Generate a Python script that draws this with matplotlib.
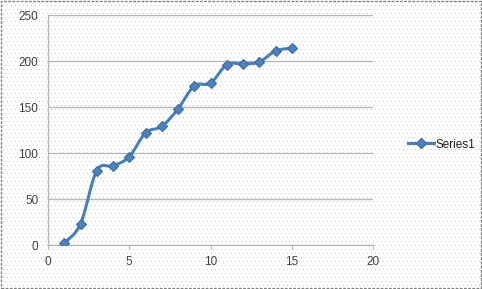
import matplotlib
matplotlib.use("Agg")
import matplotlib.pyplot as plt
import numpy as np
from matplotlib.path import Path
from matplotlib.patches import PathPatch, Rectangle
from matplotlib.lines import Line2D

# data
x_vals = [1, 2, 3, 4, 5, 6, 7, 8, 9, 10, 11, 12, 13, 14, 15]
y_vals = [2, 23, 81, 86, 96, 122, 129, 148, 173, 176, 196, 197, 199, 211, 214]
x_ticks = [0, 5, 10, 15, 20]
y_ticks = [0, 50, 100, 150, 200, 250]
series_name = "Series1"

line_color = "#4A7EBB"
marker_color = "#4F81BD"
grid_color = "#B8B8B8"

plt.rcParams["font.family"] = ["Liberation Sans", "DejaVu Sans"]

W, H = 482, 289
fig = plt.figure(figsize=(W / 100, H / 100), dpi=100)
fig.patch.set_facecolor("white")

# Excel-style dotted chart area fill
pattern = np.ones((H, W, 3))
rr, cc = np.mgrid[0:H, 0:W]
dots = (rr % 4 == 1) & ((cc + 2 * ((rr // 4) % 2)) % 4 == 1)
pattern[dots] = 0.78
fig.figimage(pattern, 0, 0, zorder=-10)

border = Rectangle((0.002, 0.003), 0.996, 0.994, transform=fig.transFigure,
                   facecolor="none", edgecolor="#808080", linestyle=(0, (2, 1)),
                   linewidth=1.0, zorder=10)
fig.patches.append(border)

ax = fig.add_axes([0.0996, 0.152, 0.6744, 0.796])
ax.set_facecolor("none")
ax.set_xlim(0, 20)
ax.set_ylim(0, 250)
ax.set_xticks(x_ticks)
ax.set_yticks(y_ticks)
ax.tick_params(axis="both", labelsize=8.5, colors="#404040", length=3,
               width=0.8, direction="out", pad=5)
ax.tick_params(axis="x", color=grid_color)
ax.tick_params(axis="y", length=0, pad=7)
for s in ["top", "right"]:
    ax.spines[s].set_visible(False)
for s in ["left", "bottom"]:
    ax.spines[s].set_color(grid_color)
    ax.spines[s].set_linewidth(1.0)
ax.yaxis.grid(True, color=grid_color, linewidth=1.0)
ax.set_axisbelow(True)

# smoothed line (Catmull-Rom to Bezier, as Excel's smoothed line)
xs = np.array(x_vals, dtype=float)
ys = np.array(y_vals, dtype=float)
pts = np.column_stack([xs, ys])
verts = [pts[0]]
codes = [Path.MOVETO]
t = 1 / 6
for i in range(len(pts) - 1):
    p0 = pts[i - 1] if i > 0 else pts[i]
    p1 = pts[i]
    p2 = pts[i + 1]
    p3 = pts[i + 2] if i + 2 < len(pts) else pts[i + 1]
    c1 = p1 + (p2 - p0) * t
    c2 = p2 - (p3 - p1) * t
    verts += [c1, c2, p2]
    codes += [Path.CURVE4] * 3
ax.add_patch(PathPatch(Path(verts, codes), facecolor="none",
                       edgecolor=line_color, linewidth=2.2, zorder=3))
ax.plot(x_vals, y_vals, linestyle="none", marker="D", markersize=5.5,
        markerfacecolor=marker_color, markeredgecolor="#3A6CA8",
        markeredgewidth=0.8, zorder=4)

handle = Line2D([], [], color=line_color, linewidth=2.2, marker="D",
                markersize=5.5, markerfacecolor=marker_color,
                markeredgecolor="#3A6CA8")
fig.legend([handle], [series_name], loc="center left",
           bbox_to_anchor=(0.825, 0.5), frameon=False, fontsize=8.5,
           handlelength=2.2, handletextpad=0.1, labelcolor="#202020")

fig.savefig("out.png", dpi=100)
